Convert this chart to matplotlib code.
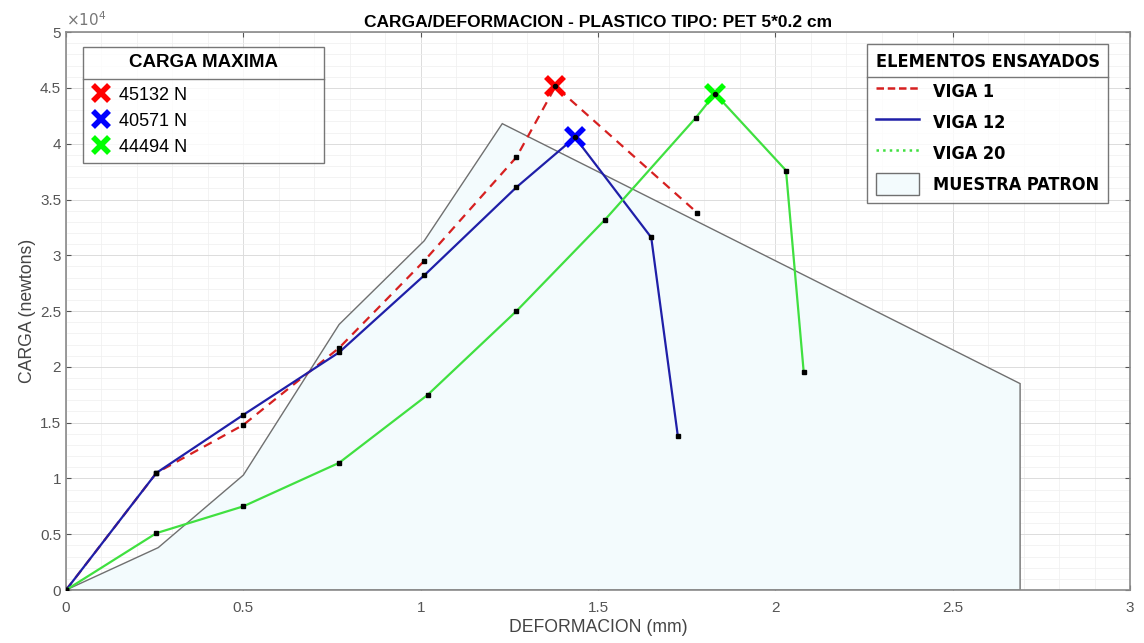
import matplotlib.pyplot as plt
import matplotlib.ticker as ticker
from matplotlib.lines import Line2D
from matplotlib.patches import Patch

plt.rcParams['font.family'] = ['Liberation Sans', 'DejaVu Sans']

# Datos (deformacion en mm, carga en N)
x_viga1 = [0, 0.255, 0.50, 0.77, 1.01, 1.27, 1.38, 1.78]
y_viga1 = [0, 10500, 14800, 21700, 29500, 38800, 45132, 33800]

x_viga12 = [0, 0.255, 0.50, 0.77, 1.01, 1.27, 1.435, 1.65, 1.725]
y_viga12 = [0, 10500, 15700, 21300, 28200, 36100, 40571, 31600, 13800]

x_viga20 = [0, 0.255, 0.50, 0.77, 1.02, 1.27, 1.52, 1.775, 1.83, 2.03, 2.08]
y_viga20 = [0, 5100, 7500, 11400, 17500, 25000, 33200, 42300, 44494, 37600, 19500]

x_patron = [0, 0.26, 0.50, 0.77, 1.01, 1.23, 2.69, 2.69]
y_patron = [0, 3800, 10300, 23800, 31300, 41800, 18500, 0]

picos_x = [1.38, 1.435, 1.83]
picos_y = [45132, 40571, 44494]
picos_txt = ["45132 N", "40571 N", "44494 N"]
colores_pico = ["#ff0000", "#0000ff", "#00ff00"]

fig = plt.figure(figsize=(11.44, 6.43), dpi=100)
ax = fig.add_axes([0.0577, 0.0824, 0.9301, 0.8676])

# muestra patron (area rellena)
ax.fill(x_patron, y_patron, facecolor="#f3fbfd", edgecolor="#707070", linewidth=1.0, zorder=2)

ax.plot(x_viga1, y_viga1, color="#d62020", linestyle=(0, (4, 3)), linewidth=1.6, zorder=3)
ax.plot(x_viga12, y_viga12, color="#1f1fa8", linewidth=1.6, zorder=3)
ax.plot(x_viga20, y_viga20, color="#40e040", linewidth=1.6, zorder=3)

# puntos de medicion
for xs, ys in [(x_viga1, y_viga1), (x_viga12, y_viga12), (x_viga20, y_viga20)]:
    ax.plot(xs, ys, linestyle="none", marker="s", markersize=3.5, color="black", zorder=5)

# cargas maximas
for px, py, c in zip(picos_x, picos_y, colores_pico):
    ax.plot(px, py, marker="x", markersize=13, markeredgewidth=4, color=c, linestyle="none", zorder=6)
    ax.plot(px, py, marker="o", markersize=3, color="black", zorder=7)

ax.set_xlim(0, 3)
ax.set_ylim(0, 50000)
ax.set_xticks([0, 0.5, 1, 1.5, 2, 2.5, 3])
ax.set_yticks([i * 5000 for i in range(11)])
ax.xaxis.set_minor_locator(ticker.AutoMinorLocator(5))
ax.yaxis.set_minor_locator(ticker.AutoMinorLocator(5))
ax.yaxis.set_major_formatter(ticker.FuncFormatter(lambda v, p: f"{v / 1e4:g}"))
ax.xaxis.set_major_formatter(ticker.FuncFormatter(lambda v, p: f"{v:g}"))
ax.text(0.0, 1.005, r"$\times10^4$", transform=ax.transAxes, fontsize=11, color="#777777",
        ha="left", va="bottom")

ax.grid(True, which="major", color="#dcdcdc", linewidth=0.7)
ax.grid(True, which="minor", color="#efefef", linewidth=0.5)
ax.set_axisbelow(True)
ax.tick_params(which="both", direction="in", top=True, right=True, colors="#555555", labelsize=11)
ax.tick_params(axis="x", pad=8)
ax.tick_params(which="minor", length=0)
for s in ax.spines.values():
    s.set_color("#8a8a8a")
    s.set_linewidth(1.2)

ax.set_title("CARGA/DEFORMACION - PLASTICO TIPO: PET 5*0.2 cm", fontsize=12.5, fontweight="bold", pad=4)
ax.set_xlabel("DEFORMACION (mm)", fontsize=12.7, color="#444444", labelpad=3)
ax.set_ylabel("CARGA (newtons)", fontsize=12.7, color="#444444", labelpad=3)

# leyenda cargas maximas
h1 = [Line2D([], [], marker="x", markersize=12, markeredgewidth=4, color=c, linestyle="none") for c in colores_pico]
leg1 = ax.legend(h1, picos_txt, title="CARGA MAXIMA", loc="upper left",
                 bbox_to_anchor=(0.0155, 0.973, 0.2274, 0.0), mode="expand",
                 fontsize=13, title_fontproperties={"size": 13.5, "weight": "bold"}, frameon=True,
                 fancybox=False, edgecolor="#555555", borderpad=0.4, labelspacing=0.5, handletextpad=0.4,
                 handlelength=1.2, borderaxespad=0)
leg1.get_frame().set_linewidth(1.0)
leg1._legend_box.sep = 11
ax.add_artist(leg1)

# leyenda elementos
h2 = [Line2D([], [], color="#d62020", linestyle=(0, (3, 1.5)), linewidth=1.8),
      Line2D([], [], color="#1f1fa8", linewidth=1.8),
      Line2D([], [], color="#40e040", linestyle=":", linewidth=1.8),
      Patch(facecolor="#f3fbfd", edgecolor="#707070")]
leg2 = ax.legend(h2, ["VIGA 1", "VIGA 12", "VIGA 20", "MUESTRA PATRON"], title="ELEMENTOS ENSAYADOS",
                 loc="upper right", bbox_to_anchor=(0.979, 0.978), frameon=True, fancybox=False,
                 edgecolor="#555555", borderpad=0.45, labelspacing=0.5, handlelength=2.4, handleheight=1.5,
                 prop={"family": ["DejaVu Sans"], "stretch": "condensed", "weight": "bold", "size": 13},
                 title_fontproperties={"family": ["DejaVu Sans"], "stretch": "condensed", "weight": "bold", "size": 13},
                 borderaxespad=0)
leg2.get_frame().set_linewidth(1.0)

# lineas separadoras bajo los titulos de las leyendas
fig.canvas.draw()
r = fig.canvas.get_renderer()
inv = fig.transFigure.inverted()
for lg in (leg1, leg2):
    fb = lg.get_frame().get_window_extent(r)
    tb = lg.get_title().get_window_extent(r)
    top_entry = max(t.get_window_extent(r).y1 for t in lg.get_texts())
    yy = (tb.y0 + top_entry) / 2
    (x0, y0) = inv.transform((fb.x0, yy))
    (x1, _) = inv.transform((fb.x1, yy))
    fig.add_artist(Line2D([x0, x1], [y0, y0], color="#777777", linewidth=1.0))

fig.savefig("out.png", dpi=100)
